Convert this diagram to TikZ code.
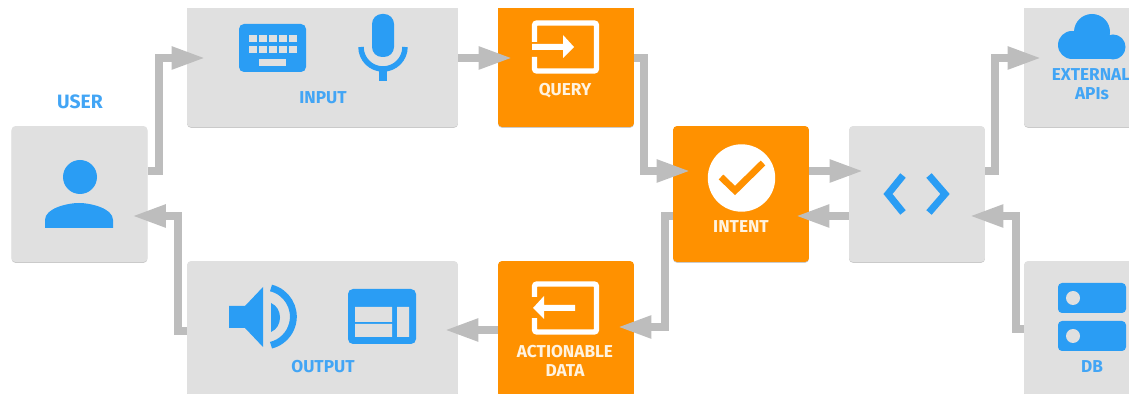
\documentclass[tikz,border=0pt]{standalone}
\usepackage{fontspec}
\setmainfont{Fira Sans}
\usetikzlibrary{arrows.meta,shadows}
\definecolor{boxgrey}{HTML}{E0E0E0}
\definecolor{flowgrey}{HTML}{BDBDBD}
\definecolor{iconblue}{HTML}{2A9DF4}
\definecolor{textblue}{HTML}{42A5F5}
\definecolor{boxorange}{HTML}{FF9100}
\definecolor{textcream}{HTML}{FFF3E0}

\begin{document}
\begin{tikzpicture}[x=0.02cm,y=-0.02cm,
  box/.style={rounded corners=0.08cm,inner sep=0pt,minimum height=2.72cm,
    drop shadow={shadow xshift=0pt,shadow yshift=-0.5pt,opacity=0.6,fill=black!35}},
  smallbox/.style={box,fill=boxgrey,minimum width=2.72cm},
  widebox/.style={box,fill=boxgrey,minimum width=5.42cm},
  orangebox/.style={box,fill=boxorange,minimum width=2.72cm},
  bluetext/.style={text=textblue,font=\bfseries\fontsize{9.8}{11}\selectfont,inner sep=0pt},
  creamtext/.style={text=textcream,font=\bfseries\fontsize{9.8}{11}\selectfont,inner sep=0pt},
  flow/.style={draw=flowgrey,line width=4.5pt,-{Triangle[length=0.68cm,width=0.42cm]}},
  iconline/.style={line width=3.1pt}]
\useasboundingbox (0,0) rectangle (1129,394);
\clip (0,9) rectangle (1129,394);

% boxes
\node[smallbox] (user) at (79.5,194) {};
\node[widebox] (input) at (322.5,59) {};
\node[orangebox] (query) at (566,59) {};
\node[orangebox] (intent) at (741,194) {};
\node[smallbox] (code) at (917,194) {};
\node[smallbox] (external) at (1092,59) {};
\node[smallbox] (db) at (1092,329) {};
\node[widebox] (output) at (322.5,329) {};
\node[orangebox] (actionable) at (566,329) {};

% labels
\node[bluetext,font=\bfseries\fontsize{11}{12}\selectfont] (userlabel) at (80,102) {USER};
\node[bluetext] (inputlabel) at (323,98) {INPUT};
\node[creamtext] (querylabel) at (565,91) {QUERY};
\node[creamtext] (intentlabel) at (741,227) {INTENT};
\node[bluetext] (outputlabel) at (323,367) {OUTPUT};
\node[creamtext] (actionlabel) at (565,352) {ACTIONABLE};
\node[creamtext] (datalabel) at (565,371) {DATA};
\node[bluetext] (externallabel) at (1091,75) {EXTERNAL};
\node[bluetext] (apilabel) at (1092,94) {APIs};
\node[bluetext] (dblabel) at (1092,367) {DB};

% connectors
\draw[flow] ([shift={(0,-23)}]user.east) -- ++(11,0) |- ([shift={(19,-1)}]input.west);
\draw[flow] ([shift={(0,-1)}]input.east) -- ([shift={(15,-1)}]query.west);
\draw[flow] ([shift={(0,-1)}]query.east) -- ++(9.5,0) |- ([shift={(18,-23)}]intent.west);
\draw[flow] ([shift={(0,-23)}]intent.east) -- ([shift={(15,-23)}]code.west);
\draw[flow] ([shift={(0,-23)}]code.east) -- ++(9.5,0) |- ([shift={(18,-1)}]external.west);
\draw[flow] (db.west) -- ++(-8,0) |- ([shift={(-16,22)}]code.east);
\draw[flow] ([shift={(0,22)}]code.west) -- ([shift={(-14,22)}]intent.east);
\draw[flow] ([shift={(0,22)}]intent.west) -- ++(-8,0) |- ([shift={(-17,-2)}]actionable.east);
\draw[flow] ([shift={(0,1)}]actionable.west) -- ([shift={(-14,1)}]output.east);
\draw[flow] ([shift={(0,2)}]output.west) -- ++(-9,0) |- ([shift={(-16,22)}]user.east);

% user
\fill[iconblue] (80,177) circle[radius=17];
\fill[iconblue] (45,228) -- (45,220) .. controls (45,208) and (68,203) .. (79,203)
  .. controls (90,203) and (113,208) .. (113,220) -- (113,228) -- cycle;

% keyboard and mic
\fill[iconblue,rounded corners=0.1cm] (239,24) rectangle (306,72);
\foreach \x in {249,259,269,279,289}
  \foreach \y in {35,46}
    \fill[boxgrey] (\x,\y) rectangle ++(7.5,7);
\fill[boxgrey] (259,59) rectangle (286,66);
\fill[iconblue,rounded corners=0.2cm] (372,14) rectangle (394,57);
\draw[iconblue,iconline] (361,47) arc[start angle=180,end angle=360,radius=0.44cm];
\fill[iconblue] (379,68) rectangle (387,81);

% query icon
\draw[white,iconline,rounded corners=0.05cm] (534.5,42) -- (534.5,23) -- (596.5,23) -- (596.5,71) -- (534.5,71) -- (534.5,57);
\fill[white] (532,44) -- (563,44) -- (563,35) -- (574,47) -- (563,58) -- (563,50) -- (532,50) -- cycle;

% check
\fill[white] (741.5,178) circle[radius=33.7];
\draw[boxorange,line width=3.8pt] (721,177) -- (735,190.5) -- (763,163);

% code icon
\draw[iconblue,line width=4pt] (903,175.5) -- (888,194) -- (903,212.5);
\draw[iconblue,line width=4pt] (929,175.5) -- (945,194) -- (929,212.5);

% cloud
\fill[iconblue] (1072,45) circle[radius=14] (1092,32) circle[radius=18] (1113,47) circle[radius=12.5];
\fill[iconblue] (1072,40) rectangle (1113,59);

% db icon
\foreach \y in {283,321} {
  \fill[iconblue,rounded corners=0.08cm] (1058,\y) rectangle ++(68,30);
  \fill[boxgrey] (1073,\y+15) circle[radius=7];
}

% speaker
\fill[iconblue] (229,306) -- (245,306) -- (263,287) -- (263,347) -- (245,328) -- (229,328) -- cycle;
\fill[iconblue] (271,303) .. controls (283,308) and (283,327) .. (271,332) -- cycle;
\draw[iconblue,line width=3.9pt] (271,288) arc[start angle=76,end angle=-76,radius=0.59cm];

% window
\fill[iconblue,rounded corners=0.1cm] (348,289) rectangle (416,344);
\fill[boxgrey] (355,307) rectangle (392,322) (355,324) rectangle (392,337) (397,307) rectangle (409,337);

% actionable icon
\draw[white,iconline,rounded corners=0.05cm] (534.5,297) -- (534.5,284) -- (596.5,284) -- (596.5,332) -- (534.5,332) -- (534.5,318);
\fill[boxorange] (530,297) rectangle (538,318);
\fill[white] (575,305) -- (544,305) -- (544,296) -- (533,308) -- (544,319) -- (544,311) -- (575,311) -- cycle;
\end{tikzpicture}
\end{document}
